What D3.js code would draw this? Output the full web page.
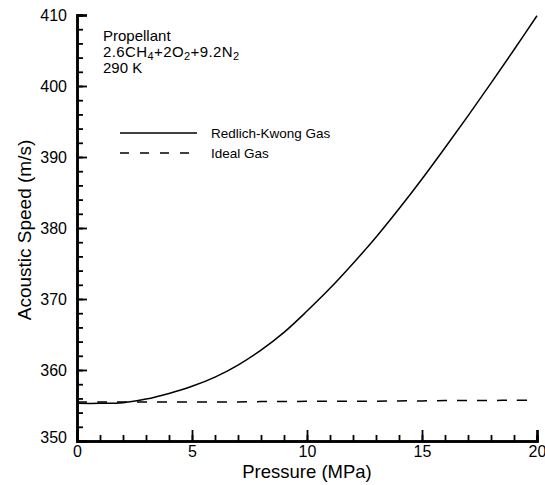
<!DOCTYPE html>
<html>
<head>
<meta charset="utf-8">
<script src="https://cdn.jsdelivr.net/npm/d3@7"></script>
<style>
  body { margin: 0; background: #fff; }
  svg { display: block; }
  text { font-family: "Liberation Sans", Arial, Helvetica, sans-serif; fill: #000; }
</style>
</head>
<body>
<svg id="chart" width="545" height="485"></svg>
<script>
// Data
const pressure = [0, 1, 2, 3, 4, 5, 6, 7, 8, 9, 10, 11, 12, 13, 14, 15, 16, 17, 18, 19, 20];
const redlichKwong = [355.3, 355.3, 355.4, 355.9, 356.7, 357.7, 359.0, 360.7, 362.8, 365.3, 368.3, 371.5, 375.0, 378.7, 382.7, 386.9, 391.3, 395.8, 400.4, 405.1, 409.9];
const idealGas = [355.5, 355.5, 355.5, 355.5, 355.5, 355.5, 355.5, 355.5, 355.55, 355.55, 355.6, 355.6, 355.6, 355.6, 355.65, 355.65, 355.7, 355.7, 355.7, 355.75, 355.75];
const xTicksMajor = [0, 5, 10, 15, 20];
const yTicksMajor = [350, 360, 370, 380, 390, 400, 410];
const legendLabels = ["Redlich-Kwong Gas", "Ideal Gas"];

const svg = d3.select("#chart");
const x = d3.scaleLinear().domain([0, 20]).range([77, 537]);
const y = d3.scaleLinear().domain([350, 410]).range([441, 15]);

// Minor ticks
const xMinor = d3.range(0, 20.01, 1);
const yMinor = d3.range(350, 410.01, 2);

// X axis (ticks inward)
const xAxisMinor = d3.axisBottom(x).tickValues(xMinor).tickSize(-6).tickFormat("");
const gxm = svg.append("g").attr("transform", `translate(0,${y(350)})`).call(xAxisMinor);
const xAxis = d3.axisBottom(x).tickValues(xTicksMajor).tickSize(-11).tickPadding(3).tickFormat(d3.format("d"));
const gx = svg.append("g").attr("transform", `translate(0,${y(350)})`).call(xAxis);

const yAxisMinor = d3.axisLeft(y).tickValues(yMinor).tickSize(-6).tickFormat("");
const gym = svg.append("g").attr("transform", `translate(${x(0)},0)`).call(yAxisMinor);
const yAxis = d3.axisLeft(y).tickValues(yTicksMajor).tickSize(-10).tickPadding(10).tickFormat(d3.format("d"));
const gy = svg.append("g").attr("transform", `translate(${x(0)},0)`).call(yAxis);

[gxm, gx, gym, gy].forEach(g => {
  g.select(".domain").attr("stroke", "#000").attr("stroke-width", 2.5);
  g.selectAll(".tick line").attr("stroke", "#000").attr("stroke-width", 1.8);
});
gx.selectAll(".tick text").attr("font-size", 16).attr("font-family", "Liberation Sans, Arial, sans-serif").attr("dy", "0.8em");
gy.selectAll(".tick text").attr("font-size", 16).attr("font-family", "Liberation Sans, Arial, sans-serif");
gy.selectAll(".tick").filter(d => d === 350).select("text").attr("dy", "0.1em");

// Lines
const line = d3.line().x((d, i) => x(pressure[i])).y(d => y(d)).curve(d3.curveCatmullRom);
svg.append("path").datum(redlichKwong).attr("d", line)
  .attr("fill", "none").attr("stroke", "#000").attr("stroke-width", 1.5);
svg.append("path").datum(idealGas).attr("d", line)
  .attr("fill", "none").attr("stroke", "#000").attr("stroke-width", 1.5)
  .attr("stroke-dasharray", "10,10");

// Axis titles
svg.append("text").attr("x", 307).attr("y", 478).attr("text-anchor", "middle")
  .attr("font-size", 18.5).text("Pressure (MPa)");
svg.append("text").attr("transform", "translate(31,230) rotate(-90)").attr("text-anchor", "middle")
  .attr("font-size", 19).text("Acoustic Speed (m/s)");

// Annotation
const ann = svg.append("g").attr("font-size", 15);
ann.append("text").attr("x", 103).attr("y", 41).text("Propellant");
const t2 = ann.append("text").attr("x", 103).attr("y", 57).attr("letter-spacing", 0.4);
const parts = [["2.6CH", false], ["4", true], ["+2O", false], ["2", true], ["+9.2N", false], ["2", true]];
parts.forEach(([s, sub], i) => {
  const ts = t2.append("tspan").text(s);
  if (sub) ts.attr("font-size", 11).attr("dy", 3);
  else ts.attr("dy", i > 0 ? -3 : 0);
});
ann.append("text").attr("x", 103).attr("y", 73).text("290 K");

// Legend
const leg = svg.append("g");
leg.append("line").attr("x1", 120).attr("x2", 197).attr("y1", 133).attr("y2", 133)
  .attr("stroke", "#000").attr("stroke-width", 1.5);
leg.append("line").attr("x1", 120).attr("x2", 197).attr("y1", 153).attr("y2", 153)
  .attr("stroke", "#000").attr("stroke-width", 1.5).attr("stroke-dasharray", "9,11");
leg.append("text").attr("x", 211).attr("y", 138).attr("font-size", 13.5).text(legendLabels[0]);
leg.append("text").attr("x", 211).attr("y", 158).attr("font-size", 13.5).text(legendLabels[1]);
</script>
</body>
</html>
